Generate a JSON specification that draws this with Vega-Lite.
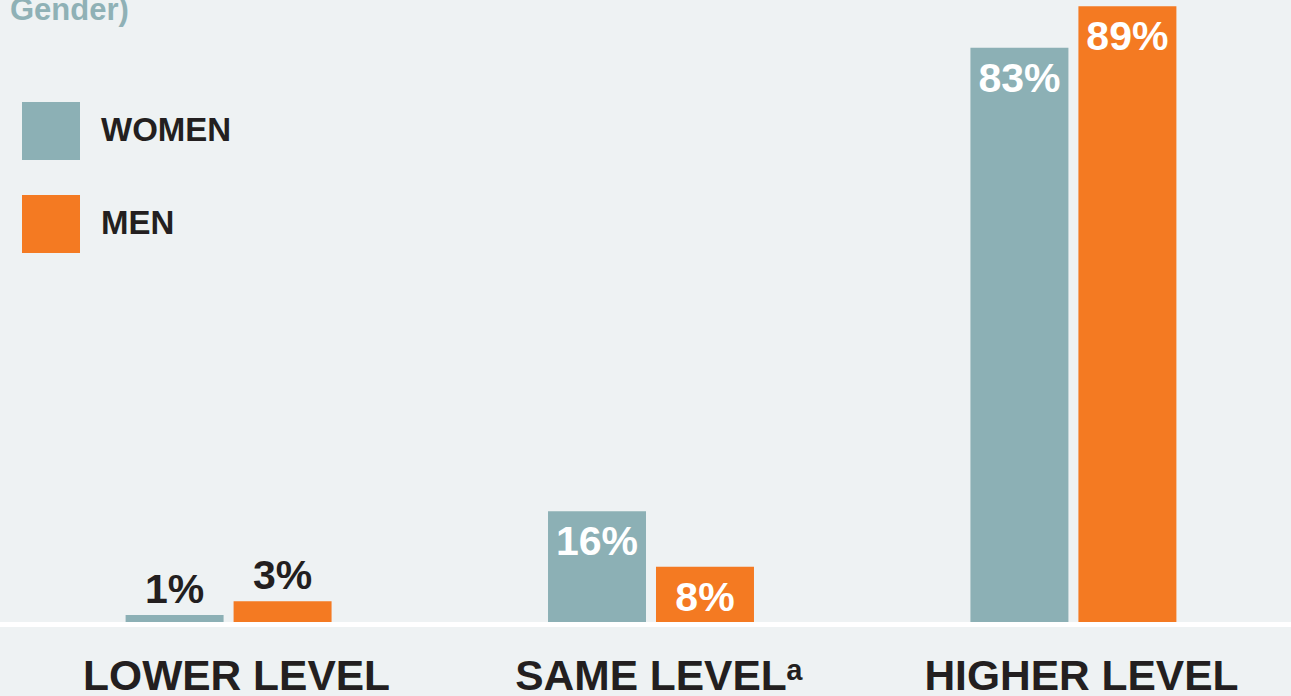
{
  "$schema": "https://vega.github.io/schema/vega-lite/v6.json",
  "width": 1291,
  "height": 622,
  "autosize": {"type": "none"},
  "padding": {"left": 0, "top": 0, "right": 0, "bottom": 74},
  "background": "#eef2f3",
  "config": {"view": {"stroke": null}, "font": "Liberation Sans"},
  "title": {
    "text": "Gender)",
    "anchor": "start",
    "frame": "group",
    "orient": "top",
    "baseline": "alphabetic",
    "offset": -51,
    "dx": 10,
    "fontSize": 31,
    "fontWeight": "bold",
    "color": "#8fb1b6",
    "font": "Liberation Sans"
  },
  "data": {
    "values": [
      {"level": "LOWER LEVEL", "gender": "WOMEN", "share": 0.01},
      {"level": "LOWER LEVEL", "gender": "MEN", "share": 0.03},
      {"level": "SAME LEVEL", "gender": "WOMEN", "share": 0.16},
      {"level": "SAME LEVEL", "gender": "MEN", "share": 0.08},
      {"level": "HIGHER LEVEL", "gender": "WOMEN", "share": 0.83},
      {"level": "HIGHER LEVEL", "gender": "MEN", "share": 0.89}
    ]
  },
  "encoding": {
    "x": {
      "field": "level",
      "type": "nominal",
      "sort": ["LOWER LEVEL", "SAME LEVEL", "HIGHER LEVEL"],
      "scale": {"range": [20, 1282], "paddingInner": 0.5124, "paddingOuter": 0.25},
      "axis": {
        "title": null,
        "domain": false,
        "ticks": false,
        "labelAngle": 0,
        "labelFont": "Liberation Sans",
        "labelFontSize": 42.5,
        "labelFontWeight": "bold",
        "labelColor": "#231f20",
        "labelPadding": 67,
        "labelOffset": 8,
        "labelBaseline": "alphabetic",
        "labelLimit": 0,
        "labelExpr": "datum.value == 'SAME LEVEL' ? 'SAME LEVELᵃ' : datum.value"
      }
    },
    "xOffset": {
      "field": "gender",
      "type": "nominal",
      "sort": ["WOMEN", "MEN"],
      "scale": {"paddingInner": 0.0926, "paddingOuter": 0}
    },
    "y": {
      "field": "share",
      "type": "quantitative",
      "scale": {"domain": [0, 0.899]},
      "axis": null
    }
  },
  "layer": [
    {
      "data": {"values": [{"base": 0}]},
      "mark": {"type": "rule", "color": "#ffffff", "strokeWidth": 5, "yOffset": 2.5},
      "encoding": {
        "x": null,
        "xOffset": null,
        "y": {"field": "base", "type": "quantitative"}
      }
    },
    {
      "mark": {"type": "bar"},
      "encoding": {
        "color": {
          "field": "gender",
          "type": "nominal",
          "scale": {"domain": ["WOMEN", "MEN"], "range": ["#8cb0b5", "#f47a22"]},
          "legend": {
            "orient": "none",
            "legendX": 22,
            "legendY": 102,
            "title": null,
            "padding": 0,
            "symbolType": "square",
            "symbolSize": 3364,
            "symbolStrokeWidth": 0,
            "symbolOpacity": 1,
            "labelFont": "Liberation Sans",
            "labelFontSize": 33,
            "labelFontWeight": "bold",
            "labelColor": "#231f20",
            "labelOffset": 21,
            "rowPadding": 35
          }
        }
      }
    },
    {
      "transform": [{"filter": "datum.share >= 0.05"}],
      "mark": {
        "type": "text",
        "baseline": "alphabetic",
        "align": "center",
        "dy": 44,
        "fontSize": 41,
        "fontWeight": "bold",
        "color": "#ffffff"
      },
      "encoding": {"text": {"field": "share", "type": "quantitative", "format": ".0%"}, "detail": {"field": "gender"}}
    },
    {
      "transform": [{"filter": "datum.share < 0.05"}],
      "mark": {
        "type": "text",
        "baseline": "alphabetic",
        "align": "center",
        "dy": -12,
        "fontSize": 41,
        "fontWeight": "bold",
        "color": "#231f20"
      },
      "encoding": {"text": {"field": "share", "type": "quantitative", "format": ".0%"}, "detail": {"field": "gender"}}
    }
  ]
}
